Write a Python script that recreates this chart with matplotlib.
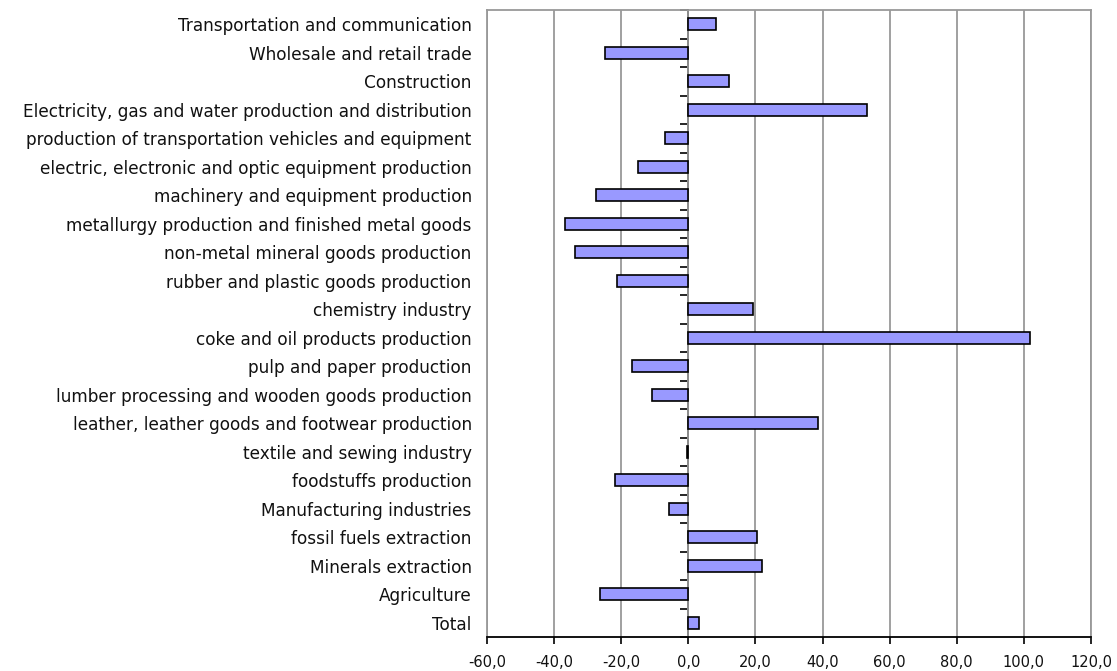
import matplotlib
matplotlib.use("Agg")
import matplotlib.pyplot as plt
import numpy as np

categories = ["Total", "Agriculture", "Minerals extraction", "fossil fuels extraction",
              "Manufacturing industries", "foodstuffs production", "textile and sewing industry",
              "leather, leather goods and footwear production",
              "lumber processing and wooden goods production", "pulp and paper production",
              "coke and oil products production", "chemistry industry",
              "rubber and plastic goods production", "non-metal mineral goods production",
              "metallurgy production and finished metal goods",
              "machinery and equipment production",
              "electric, electronic and optic equipment production",
              "production of transportation vehicles and equipment",
              "Electricity, gas and water production and distribution",
              "Construction", "Wholesale and retail trade", "Transportation and communication"]
values = [3.2, -26.3, 21.9, 20.6, -5.8, -21.8, -0.5, 38.6, -10.7, -16.9, 101.7, 19.3,
          -21.4, -33.7, -36.8, -27.6, -15.1, -7.1, 53.1, 12.1, -24.9, 8.1]
xticks = [-60, -40, -20, 0, 20, 40, 60, 80, 100, 120]

plt.rcParams['font.family'] = ['DejaVu Sans']

fig = plt.figure(figsize=(11.17, 6.71), dpi=100)
ax = fig.add_axes([487/1117, 1 - 637/671, (1091-487)/1117, (637-10)/671])

y = np.arange(len(categories))
ax.barh(y, values, height=0.42, color='#9999FF', edgecolor='black', linewidth=1.2, zorder=3)
ax.set_ylim(-0.5, len(categories) - 0.5)
ax.set_xlim(-60, 120)
ax.set_xticks(xticks)
ax.set_xticklabels([("%.1f" % t).replace('.', ',') for t in xticks], fontsize=10.5, color='#111111')
ax.set_yticks(y)
ax.set_yticklabels(categories, fontsize=12.2, color='#111111')
ax.tick_params(axis='y', length=0, pad=11)
ax.tick_params(axis='x', length=5, direction='out', width=1.2, pad=8)
ax.grid(axis='x', color='#999999', linewidth=1.3, zorder=0)
for s in ['left', 'top', 'right']:
    ax.spines[s].set_color('#999999')
    ax.spines[s].set_linewidth(1.3)
ax.spines['bottom'].set_linewidth(1.3)

# category axis at zero with ticks between categories
sec = ax.secondary_yaxis(60/180)
sec.set_yticks(np.arange(len(categories) + 1) - 0.5)
sec.set_yticklabels([])
sec.tick_params(length=6, width=1.2, direction='out')
sec.spines['left'].set_linewidth(1.3)

fig.savefig("out.png", dpi=100)
